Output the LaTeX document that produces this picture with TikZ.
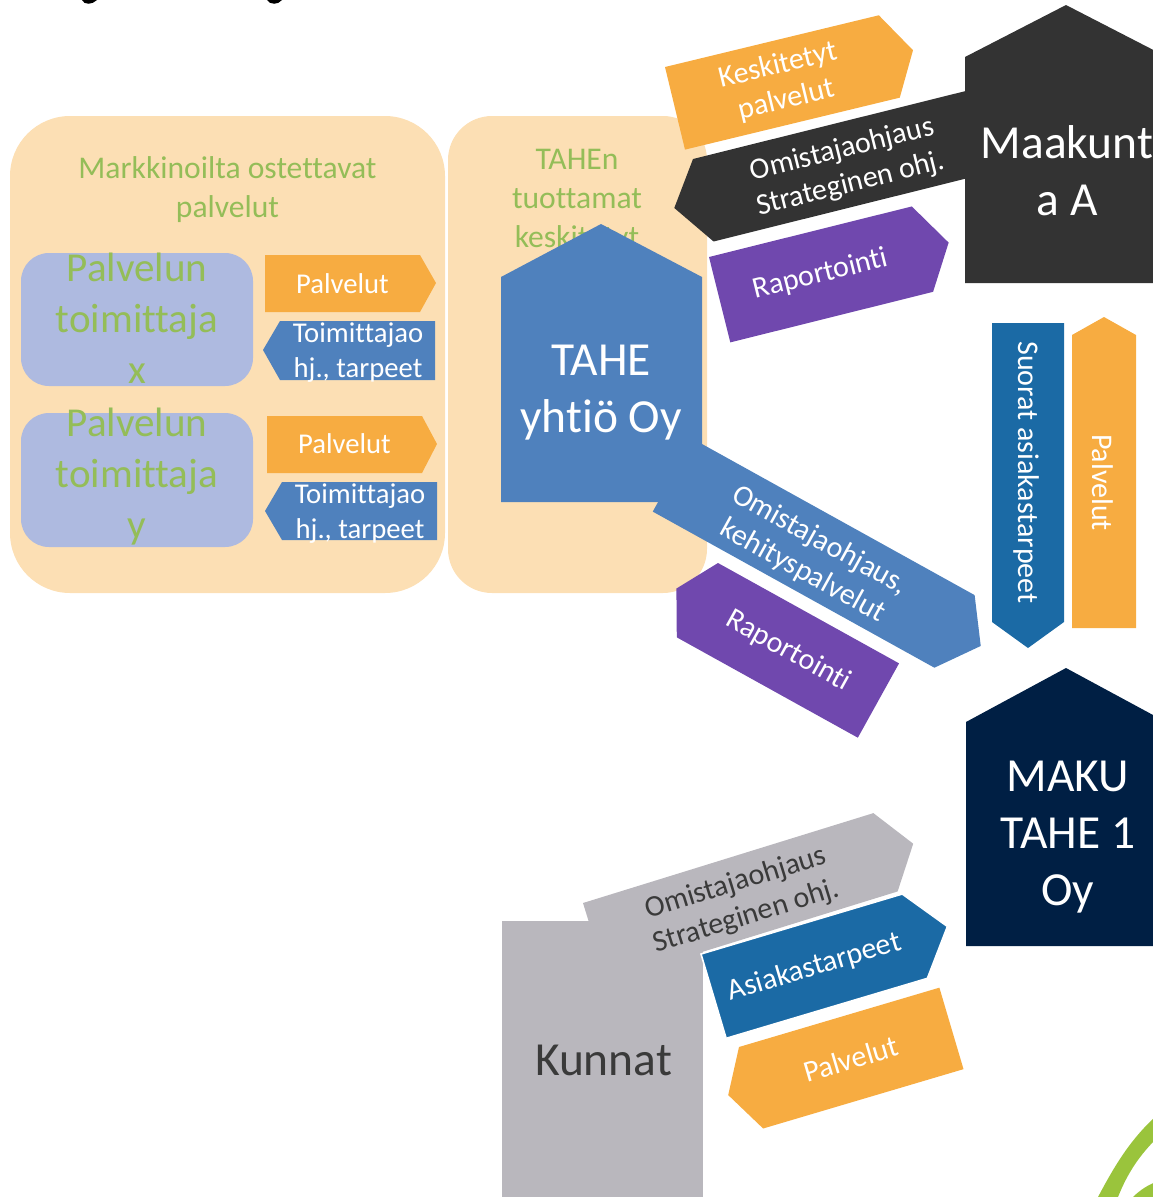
\documentclass[tikz,border=0pt]{standalone}
\usepackage{fontspec}
\setmainfont{Carlito}[Ligatures={NoCommon}]
\definecolor{peach}{HTML}{FCDFB4}
\definecolor{greenT}{HTML}{94BD58}
\definecolor{lav}{HTML}{AEBAE0}
\definecolor{orangeA}{HTML}{F7AC41}
\definecolor{blueA}{HTML}{4F81BD}
\definecolor{blueB}{HTML}{1B6AA5}
\definecolor{purpleA}{HTML}{7048AE}
\definecolor{darkA}{HTML}{333333}
\definecolor{navyA}{HTML}{001F44}
\definecolor{greyA}{HTML}{B9B7BD}
\definecolor{greyT}{HTML}{3A3A3A}
\definecolor{greenL}{HTML}{9AC43C}
\begin{document}
\begin{tikzpicture}[x=0.75pt,y=-0.75pt,
  arrowlbl/.style={text=white,align=center,inner sep=0pt,font=\fontsize{22.5}{26.5}\selectfont},
  smalllbl/.style={text=white,align=center,inner sep=0pt,anchor=base,font=\fontsize{21.5}{26.25}\selectfont},
  titleG/.style={text=greenT,align=center,inner sep=0pt,anchor=base,font=\fontsize{23.7}{28.9}\selectfont},
  provG/.style={text=greenT,align=center,inner sep=0pt,anchor=base,font=\fontsize{30.8}{38.25}\selectfont},
  biglbl/.style={text=white,align=center,inner sep=0pt,anchor=base,font=\fontsize{35.6}{42.75}\selectfont}]
\useasboundingbox (0,0) rectangle (1153,1197);
\clip (0,0) rectangle (1153,1197);

% cut-off title descenders at the top edge
\fill[black] (82,0) .. controls (84,5) and (92,5) .. (97,0) -- cycle;
\fill[black] (267,0) .. controls (270,5) and (278,5) .. (282,0) -- cycle;

% background panels (base anchor = baseline of the last line)
\fill[peach, rounded corners=45pt] (10,116) rectangle (445,593);
\fill[peach, rounded corners=33pt] (448,116) rectangle (707,593);
\node[titleG] (tMark) at (227.5,217) {Markkinoilta ostettavat\\palvelut};
\node[titleG] (tTahen) at (577,247) {TAHEn\\tuottamat\\keskitetyt};

% providers
\fill[lav, rounded corners=21pt] (21,253) rectangle (253,386);
\fill[lav, rounded corners=21pt] (21,413) rectangle (253,547);
\node[provG] (tProvX) at (137,383) {Palvelun\\toimittaja\\x};
\node[provG] (tProvY) at (137,538) {Palvelun\\toimittaja\\y};

% left panel arrows
\fill[orangeA] (265,255) -- (420,255) -- (436,283) -- (420,312) -- (265,312) -- cycle;
\node[smalllbl] (tPalv1) at (342.5,293) {Palvelut};
\fill[blueA] (280,321) -- (435,321) -- (435,380) -- (280,380) -- (263,350) -- cycle;
\node[smalllbl] (tToim1) at (358,377) {Toimittajao\\hj., tarpeet};
\fill[orangeA] (267,416) -- (422,416) -- (437,444) -- (422,473) -- (267,473) -- cycle;
\node[smalllbl] (tPalv2) at (344.5,453) {Palvelut};
\fill[blueA] (282,482) -- (437,482) -- (437,540) -- (282,540) -- (265,511) -- cycle;
\node[smalllbl] (tToim2) at (360,538) {Toimittajao\\hj., tarpeet};

% upper arrows
\begin{scope}[shift={(665,67)},rotate=13.6]
  \fill[orangeA] (0,0) -- (220,0) -- (245,42) -- (221,85) -- (0,85) -- cycle;
  \node[arrowlbl,rotate=13.6] (tKesk) at (110,43) {Keskitetyt\\palvelut};
\end{scope}
\begin{scope}[shift={(693,159)},rotate=14]
  \fill[darkA] (0,0) -- (310,0) -- (310,85) -- (0,85) -- (-30,43) -- cycle;
  \node[arrowlbl,rotate=14] (tOmA) at (147,45) {Omistajaohjaus\\Strateginen ohj.};
\end{scope}
\begin{scope}[shift={(709,257)},rotate=14]
  \fill[purpleA] (0,0) -- (209,0) -- (236,44) -- (209,88) -- (0,88) -- cycle;
  \node[arrowlbl,rotate=14] (tRapA) at (104,44) {Raportointi};
\end{scope}

% Maakunta A
\fill[darkA] (965,283) -- (965,57) -- (1066,5) -- (1167,57) -- (1167,283) -- cycle;
\node[biglbl] (tMaak) at (1067,215) {Maakunt\\a A};

% TAHE yhtio and its diagonal arrow
\begin{scope}[shift={(693,439)},rotate=-29]
  \fill[blueA] (0,0) -- (322,0) -- (352,41.5) -- (322,83) -- (0,83) -- cycle;
\end{scope}
\fill[blueA] (501,502) -- (501,277) -- (601,224) -- (702,277) -- (702,502) -- cycle;
\begin{scope}[shift={(693,439)},rotate=-29]
  \node[arrowlbl,rotate=-29] (tOmB) at (160,45) {Omistajaohjaus,\\kehityspalvelut};
\end{scope}
\node[biglbl] (tTahe) at (601,432) {TAHE\\yhtiö Oy};
\begin{scope}[shift={(718,563)},rotate=-29]
  \fill[purpleA] (0,0) -- (207,0) -- (207,85) -- (0,85) -- (-24,42.5) -- cycle;
  \node[arrowlbl,rotate=-29] (tRapB) at (104,43) {Raportointi};
\end{scope}

% vertical arrows
\fill[blueB] (992,323) -- (1064,323) -- (1064,622) -- (1028,648) -- (992,622) -- cycle;
\node[arrowlbl,rotate=-90] (tSuorat) at (1026.5,472.5) {Suorat asiakastarpeet};
\fill[orangeA] (1072,628) -- (1072,335) -- (1104,317) -- (1136,335) -- (1136,628) -- cycle;
\node[arrowlbl,rotate=-90] (tPalvV) at (1103,482.5) {Palvelut};

% MAKU TAHE 1 Oy
\fill[navyA] (966,946) -- (966,722) -- (1066,668) -- (1166,722) -- (1166,946) -- cycle;
\node[biglbl] (tMaku) at (1068,905) {MAKU\\TAHE 1\\Oy};

% Kunnat and its arrows
\begin{scope}[shift={(583,903)},rotate=17.2]
  \fill[greyA] (0,0) -- (304,0) -- (333,41) -- (304,82) -- (0,82) -- cycle;
\end{scope}
\fill[greyA] (502,921) rectangle (703,1200);
\begin{scope}[shift={(583,903)},rotate=17.2]
  \node[arrowlbl,rotate=17.2,text=greyT] (tOmC) at (152,44) {Omistajaohjaus\\Strateginen ohj.};
\end{scope}
\node[biglbl,text=greyT] (tKunnat) at (603.5,1075) {Kunnat};
\begin{scope}[shift={(701,954)},rotate=16.6]
  \filldraw[fill=blueB,draw=white,line width=1.2pt] (0,0) -- (210,0) -- (244,44) -- (210,88) -- (0,88) -- cycle;
  \node[arrowlbl,rotate=16.6] (tAsiak) at (105,45) {Asiakastarpeet};
\end{scope}
\begin{scope}[shift={(739,1047)},rotate=16.5]
  \fill[orangeA] (0,0) -- (209,0) -- (209,85) -- (0,85) -- (-24,43) -- cycle;
  \node[arrowlbl,rotate=16.5] (tPalvL) at (104,43) {Palvelut};
\end{scope}

% green ribbon at the corner
\fill[greenL] (1098,1197) .. controls (1115,1165) and (1130,1140) .. (1156,1116) -- (1156,1139) .. controls (1140,1155) and (1128,1172) .. (1118,1197) -- cycle;
\fill[greenL] (1133,1197) .. controls (1140,1190) and (1148,1185) .. (1156,1182) -- (1156,1197) -- cycle;
\end{tikzpicture}
\end{document}
